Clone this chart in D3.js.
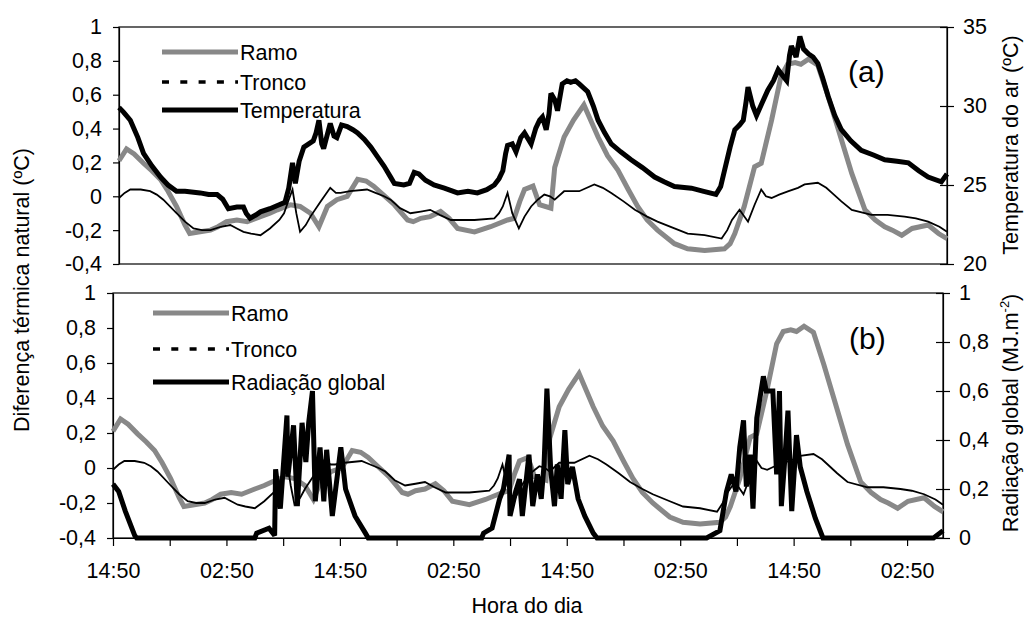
<!DOCTYPE html>
<html>
<head>
<meta charset="utf-8">
<script src="https://cdn.jsdelivr.net/npm/d3@7"></script>
<style>
  body { margin: 0; background: #fff; }
  svg { font-family: "Liberation Sans", Arial, sans-serif; }
  .axis path, .axis line { stroke: #000; stroke-width: 1.2; }
  .axis text { font-size: 21.5px; fill: #000; font-family: "Liberation Sans", Arial, sans-serif; }
</style>
</head>
<body>
<svg width="1029" height="617"></svg>
<script>
// hours after 14:50 of the first day

// Ramo (ºC)
const ramo = [
  [0,0.21],[0.8,0.28],[1.6,0.25],[2.6,0.195],[3.5,0.15],[4.4,0.10],[5.2,0.03],[6.1,-0.06],
  [7,-0.17],[7.5,-0.22],[8.6,-0.21],[9.7,-0.20],[10.5,-0.18],[11.4,-0.15],[12.5,-0.14],
  [13.6,-0.15],[15,-0.12],[16,-0.10],[16.8,-0.08],[18.2,-0.05],[19.2,-0.06],[20.3,-0.10],
  [21.2,-0.18],[22.1,-0.06],[23.1,-0.02],[24.2,0.0],[25.3,0.10],[26.2,0.09],[27.0,0.06],
  [28,0.01],[29.2,-0.05],[30.6,-0.14],[31.2,-0.15],[32,-0.13],[33,-0.12],[34.1,-0.09],
  [35,-0.13],[35.9,-0.19],[37.7,-0.21],[39.4,-0.18],[41.2,-0.14],[41.9,-0.13],[42.5,-0.03],
  [43,0.04],[43.9,0.06],[44.6,-0.05],[45.8,-0.07],[46.2,0.17],[47.2,0.35],[48.2,0.45],
  [49.3,0.54],[50.8,0.35],[51.8,0.24],[52.9,0.155],[54,0.04],[55,-0.06],[56,-0.14],
  [57.1,-0.20],[58.9,-0.28],[60.3,-0.31],[62.1,-0.32],[64.2,-0.31],[64.8,-0.28],[65.3,-0.22],
  [66.3,-0.06],[67.4,0.175],[68.1,0.195],[69.2,0.45],[70.2,0.71],[70.9,0.78],[71.7,0.79],
  [72.3,0.78],[73.1,0.81],[74.1,0.775],[75.2,0.59],[76.3,0.39],[77.7,0.135],[79.1,-0.08],
  [80.2,-0.14],[81.2,-0.18],[82,-0.20],[83,-0.23],[84.1,-0.19],[85.8,-0.17],[86.9,-0.22],
  [87.8,-0.25]
];

// Tronco (ºC)
const tronco = [
  [0,-0.01],[0.6,0.02],[1.2,0.04],[2.3,0.04],[3.3,0.03],[4.0,0.01],[4.7,-0.02],[6.1,-0.10],
  [7,-0.15],[7.9,-0.19],[8.8,-0.20],[9.7,-0.20],[10.8,-0.18],[11.8,-0.17],[12.5,-0.19],
  [13.2,-0.21],[14,-0.22],[15,-0.23],[16,-0.19],[17,-0.14],[17.5,-0.10],[18.0,-0.02],
  [18.4,0.04],[18.8,-0.10],[19.2,-0.21],[19.8,-0.17],[20.3,-0.12],[21.4,-0.03],[22.4,0.05],
  [23,0.02],[23.5,0.02],[24.5,0.03],[26.3,0.04],[27.2,0.02],[28.1,0.0],[28.8,-0.02],
  [29.8,-0.07],[30.9,-0.10],[32,-0.09],[33,-0.08],[34,-0.11],[35.2,-0.14],[37.7,-0.14],
  [39.8,-0.13],[40.3,-0.10],[40.7,-0.06],[41.2,0.02],[41.7,-0.10],[42.4,-0.19],[43,-0.12],
  [43.7,-0.06],[44.4,-0.02],[45.1,0.01],[45.7,0.0],[46.2,-0.02],[47.2,0.03],[48.8,0.03],
  [50.4,0.07],[51.3,0.05],[52.2,0.02],[53.5,-0.03],[54.7,-0.08],[56,-0.12],[57.1,-0.15],
  [58.9,-0.19],[60.3,-0.22],[62.1,-0.23],[63.9,-0.25],[64.5,-0.20],[65,-0.14],[65.8,-0.08],
  [66.7,-0.15],[67.4,-0.05],[68.1,0.04],[68.6,0.0],[69.2,-0.01],[70,0.01],[71,0.03],
  [72,0.05],[72.7,0.07],[74.1,0.08],[75,0.05],[75.6,0.02],[76.6,-0.03],[77.7,-0.08],
  [79.8,-0.11],[81.5,-0.11],[83.3,-0.12],[84.5,-0.13],[85.8,-0.15],[87,-0.18],[87.8,-0.21]
];

// Temperatura do ar (ºC)
const temperatura = [
  [0,29.9],[0.5,29.6],[1.2,29.1],[2.0,28.0],[2.6,27.0],[3.5,26.2],[4.4,25.5],[5.2,25.0],
  [6.1,24.6],[7,24.6],[8.6,24.5],[9.5,24.4],[10.4,24.4],[11.0,24.1],[11.6,23.5],[12.5,23.6],
  [13.2,23.6],[13.5,23.2],[13.9,22.9],[14.5,23.1],[15,23.3],[16,23.5],[16.8,23.7],[17.6,23.9],
  [18.0,24.8],[18.4,26.4],[18.7,25.1],[19.1,26.5],[19.6,27.4],[20.6,27.8],[20.9,28.3],
  [21.2,29.1],[21.5,27.6],[21.7,27.3],[22.4,28.9],[22.8,28.1],[23.1,28.0],[23.6,28.8],
  [24.2,28.7],[24.8,28.5],[25.3,28.3],[26.0,27.9],[26.7,27.4],[27.4,26.8],[28.1,26.2],
  [28.8,25.5],[29.2,25.1],[30.2,25.0],[30.8,25.1],[31.3,25.8],[31.8,25.7],[32.5,25.3],
  [33.4,25.0],[34.5,24.8],[35.9,24.5],[37,24.6],[38,24.5],[39,24.7],[39.8,25.0],[40.3,25.4],
  [40.7,25.9],[41.0,27.0],[41.2,27.5],[41.7,27.6],[42.1,27.1],[42.6,28.0],[43,28.3],
  [43.4,27.9],[43.7,27.6],[44.2,28.6],[44.6,29.1],[44.9,29.3],[45.3,28.5],[45.6,29.5],
  [45.8,30.8],[46.2,30.4],[46.5,29.7],[47.0,31.4],[47.5,31.6],[47.9,31.5],[48.4,31.6],
  [48.8,31.4],[49.7,30.9],[50.3,30.0],[50.8,29.1],[51.5,28.3],[52.2,27.6],[53.2,27.1],
  [54.3,26.6],[55.5,26.1],[56.8,25.5],[57.8,25.2],[58.9,24.9],[60.7,24.8],[62,24.6],
  [63.3,24.4],[63.8,24.9],[64.2,25.9],[64.8,27.4],[65.3,28.5],[65.8,28.8],[66.2,29.1],
  [66.5,30.3],[66.7,31.2],[67.2,30.0],[67.6,29.4],[68.2,30.2],[68.8,31.0],[69.4,31.6],
  [69.9,32.3],[70.4,31.9],[70.8,31.6],[71.1,33.2],[71.3,33.8],[71.8,33.1],[72.2,34.4],
  [72.6,33.6],[73.1,33.3],[73.6,33.1],[74.1,32.7],[74.6,31.8],[75.2,30.6],[75.9,29.4],
  [76.6,28.5],[77.6,27.8],[78.7,27.2],[80,26.9],[81.2,26.6],[82.5,26.5],[83.7,26.4],
  [84.8,25.9],[85.8,25.5],[87.2,25.2],[87.8,25.7]
];

// Radiação global (MJ.m-2)
const radiacao = [
  [0,0.22],[0.6,0.19],[1.3,0.11],[2.3,0.01],[2.5,0],[15,0],[15.2,0.02],[16.5,0.04],
  [17.1,0.01],[17.2,0.28],[17.7,0.12],[18.4,0.50],[18.5,0.25],[19.1,0.46],[19.5,0.13],
  [20.0,0.47],[20.4,0.31],[20.7,0.47],[21.1,0.60],[21.4,0.15],[21.9,0.37],[22.3,0.15],
  [22.6,0.36],[23.2,0.09],[24.1,0.37],[24.6,0.20],[25.6,0.09],[26.7,0.02],[27,0],[39,0],
  [39.2,0.02],[40.1,0.04],[40.9,0.16],[41.3,0.20],[41.9,0.34],[42.0,0.09],[42.6,0.19],
  [43,0.24],[43.3,0.09],[44.0,0.34],[44.4,0.13],[44.9,0.26],[45.3,0.16],[45.6,0.30],
  [45.9,0.61],[46.3,0.28],[46.7,0.13],[47,0.30],[47.4,0.16],[47.8,0.44],[48.1,0.22],
  [48.6,0.29],[49.2,0.16],[49.9,0.09],[50.8,0.02],[51.2,0],[62.8,0],[64.2,0.03],[64.9,0.19],
  [65.4,0.26],[65.9,0.19],[66.3,0.37],[66.7,0.48],[67,0.21],[67.4,0.34],[67.7,0.12],
  [68.1,0.49],[68.8,0.66],[69.1,0.60],[69.8,0.60],[70.2,0.26],[70.5,0.60],[70.7,0.13],
  [71.1,0.34],[71.4,0.52],[71.8,0.11],[72.3,0.42],[72.7,0.29],[73.4,0.19],[74.3,0.08],
  [75.1,0],[86.8,0],[87.8,0.03]
];

const hourTicks  = [0, 6, 12, 18, 24, 30, 36, 42, 48, 54, 60, 66, 72, 78, 84];
const hourLabels = ["14:50", "02:50"];   // alternates every 12 h
const leftTicks  = [-0.4, -0.2, 0, 0.2, 0.4, 0.6, 0.8, 1];
const tempTicks  = [20, 25, 30, 35];
const radTicks   = [0, 0.2, 0.4, 0.6, 0.8, 1];

const svg = d3.select("svg");
const GRAY = "#888";

// comma decimals, plain hyphen
const fmt = d => Number.isInteger(d) ? String(d) : d.toFixed(1).replace(".", ",");

function drawPanel(p) {
  const x = d3.scaleLinear().domain([0, 87.8]).range([p.left, p.right]);
  const y = d3.scaleLinear().domain([-0.4, 1]).range([p.bottom, p.top]);
  const y2 = d3.scaleLinear().domain(p.rightDomain).range([p.bottom, p.top]);

  const g = svg.append("g");

  // frame
  g.append("rect")
    .attr("x", p.left).attr("y", p.top)
    .attr("width", p.right - p.left).attr("height", p.bottom - p.top)
    .attr("fill", "none").attr("stroke", "#000").attr("stroke-width", 1.2);

  // left axis
  g.append("g").attr("class", "axis")
    .attr("transform", `translate(${p.left},0)`)
    .call(d3.axisLeft(y).tickValues(leftTicks).tickFormat(fmt)
      .tickSize(6).tickSizeOuter(0).tickPadding(11));

  // right axis, ticks cross the line
  const ra = g.append("g").attr("class", "axis")
    .attr("transform", `translate(${p.right},0)`)
    .call(d3.axisRight(y2).tickValues(p.rightTicks).tickFormat(fmt)
      .tickSize(7).tickSizeOuter(0).tickPadding(9));
  ra.selectAll(".tick line").attr("x1", -7);

  if (p.xAxis) {
    g.append("g").attr("class", "axis")
      .attr("transform", `translate(0,${p.bottom})`)
      .call(d3.axisBottom(x).tickValues(hourTicks)
        .tickFormat(h => h % 12 === 0 ? hourLabels[(h / 12) % 2] : "")
        .tickSize(8).tickSizeOuter(0).tickPadding(17));
  }

  const line = d3.line().x(d => x(d[0])).y(d => y(d[1]));
  const line2 = d3.line().x(d => x(d[0])).y(d => y2(d[1]));

  g.append("path").datum(ramo).attr("d", line)
    .attr("fill", "none").attr("stroke", GRAY).attr("stroke-width", 5);
  g.append("path").datum(tronco).attr("d", line)
    .attr("fill", "none").attr("stroke", "#000").attr("stroke-width", 1.8);
  g.append("path").datum(p.third).attr("d", line2)
    .attr("fill", "none").attr("stroke", "#000").attr("stroke-width", 5)
    .attr("stroke-linejoin", "miter").attr("stroke-miterlimit", 3);

  // legend
  const items = [
    {name: "Ramo", stroke: GRAY, w: 5, dash: null},
    {name: "Tronco", stroke: "#000", w: 3.5, dash: "7,11.3"},
    {name: p.thirdName, stroke: "#000", w: 5, dash: null}
  ];
  items.forEach((it, i) => {
    const ly = p.legendY[i];
    g.append("line")
      .attr("x1", p.legendX).attr("x2", p.legendX + 76)
      .attr("y1", ly).attr("y2", ly)
      .attr("stroke", it.stroke).attr("stroke-width", it.w)
      .attr("stroke-dasharray", it.dash);
    g.append("text")
      .attr("x", p.legendX + 78).attr("y", ly + 7.5)
      .attr("font-size", 21.5).text(it.name);
  });

  g.append("text")
    .attr("x", p.tagX).attr("y", p.tagY)
    .attr("font-size", 30).text(p.tag);
}

drawPanel({
  left: 119, right: 947, top: 27, bottom: 264,
  rightDomain: [20, 35], rightTicks: tempTicks,
  third: temperatura, thirdName: "Temperatura",
  legendX: 162, legendY: [52, 82, 110],
  tag: "(a)", tagX: 848, tagY: 82, xAxis: false
});

drawPanel({
  left: 113, right: 943, top: 293, bottom: 538,
  rightDomain: [0, 1], rightTicks: radTicks,
  third: radiacao, thirdName: "Radiação global",
  legendX: 153, legendY: [313, 349, 382],
  tag: "(b)", tagX: 849, tagY: 349, xAxis: true
});

// axis titles
svg.append("text")
  .attr("transform", "translate(29,290) rotate(-90)")
  .attr("text-anchor", "middle").attr("font-size", 21.5)
  .text("Diferença térmica natural (ºC)");

svg.append("text")
  .attr("transform", "translate(1018,145) rotate(-90)")
  .attr("text-anchor", "middle").attr("font-size", 21.5)
  .text("Temperatura do ar (ºC)");

const rt = svg.append("text")
  .attr("transform", "translate(1018,413) rotate(-90)")
  .attr("text-anchor", "middle").attr("font-size", 21.5);
rt.append("tspan").text("Radiação global (MJ.m");
rt.append("tspan").attr("font-size", 13).attr("dy", -9).text("-2");
rt.append("tspan").attr("dy", 9).text(")");

svg.append("text")
  .attr("x", 527).attr("y", 613)
  .attr("text-anchor", "middle").attr("font-size", 21.5)
  .text("Hora do dia");
</script>
</body>
</html>
